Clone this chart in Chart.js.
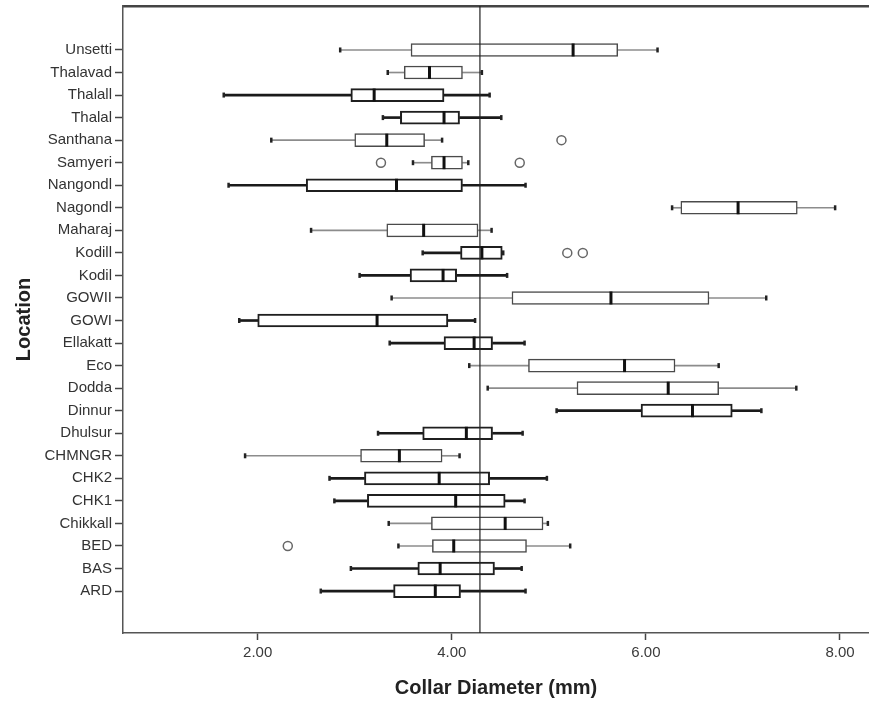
<!DOCTYPE html>
<html>
<head>
<meta charset="utf-8">
<script src="https://cdn.jsdelivr.net/npm/chart.js@4.4.1/dist/chart.umd.min.js"></script>
<style>
  html, body { margin: 0; padding: 0; background: #ffffff; }
  #wrap { width: 869px; height: 702px; position: relative; }
</style>
</head>
<body>
<div id="wrap"><canvas id="c" width="869" height="702"></canvas></div>
<script>
// ---- data ----
const categories = ["Unsetti","Thalavad","Thalall","Thalal","Santhana","Samyeri","Nangondl","Nagondl","Maharaj","Kodill","Kodil","GOWII","GOWI","Ellakatt","Eco","Dodda","Dinnur","Dhulsur","CHMNGR","CHK2","CHK1","Chikkall","BED","BAS","ARD"];
const whiskerLow  = [2.85,3.34,1.65,3.29,2.14,3.60,1.70,6.27,2.55,3.70,3.05,3.38,1.81,3.36,4.18,4.37,5.08,3.24,1.87,2.74,2.79,3.35,3.45,2.96,2.65];
const quartile1   = [3.58,3.51,2.96,3.47,3.00,3.79,2.50,6.36,3.33,4.09,3.57,4.62,2.00,3.92,4.79,5.29,5.95,3.70,3.06,3.10,3.13,3.79,3.80,3.65,3.40];
const medians     = [5.25,3.77,3.20,3.92,3.33,3.92,3.43,6.95,3.71,4.31,3.91,5.64,3.23,4.23,5.78,6.23,6.48,4.15,3.46,3.87,4.04,4.55,4.02,3.88,3.83];
const quartile3   = [5.71,4.11,3.92,4.08,3.72,4.11,4.11,7.56,4.27,4.52,4.05,6.65,3.96,4.42,6.30,6.75,6.89,4.42,3.90,4.39,4.55,4.94,4.77,4.44,4.09];
const whiskerHigh = [6.12,4.31,4.39,4.51,3.90,4.17,4.76,7.95,4.41,4.53,4.57,7.24,4.24,4.75,6.75,7.55,7.19,4.73,4.08,4.98,4.75,4.99,5.22,4.72,4.76];
const outlierLocations = ["Santhana","Samyeri","Samyeri","Kodill","Kodill","BED"];
const outlierValues    = [5.13,3.27,4.70,5.19,5.35,2.31];
const referenceValue = 4.29;
const xTickValues = [2, 4, 6, 8];

// ---- style (not data) ----
const heavyStroke = [0,0,1,1,0,0,1,0,0,1,1,0,1,1,0,0,1,1,0,1,1,0,0,1,1];
const FONT = "'Liberation Sans', Arial, sans-serif";
const X_MIN = 0.612, X_MAX = 8.299;
const Y_MIN = -1.95, Y_MAX = 25.86;

const idx = categories.map((_, i) => i);
const heavyIdx = idx.filter(i => heavyStroke[i]);
const lightIdx = idx.filter(i => !heavyStroke[i]);

function whiskerSet(list, thick, color) {
  const pts = [];
  list.forEach(i => {
    pts.push({ y: i, x: [whiskerLow[i], quartile1[i]] });
    pts.push({ y: i, x: [quartile3[i], whiskerHigh[i]] });
  });
  return {
    type: 'bar', order: 6, grouped: false, indexAxis: 'y',
    data: pts, barThickness: thick, backgroundColor: color, borderWidth: 0
  };
}

const datasets = [
  whiskerSet(lightIdx, 1, '#8c8c8c'),
  whiskerSet(heavyIdx, 2, '#1a1a1a'),
  {
    type: 'bar', label: 'box', order: 5, grouped: false, indexAxis: 'y',
    data: idx.map(i => ({ y: i, x: [quartile1[i], quartile3[i]] })),
    barThickness: 13,
    backgroundColor: '#ffffff',
    borderColor: ctx => heavyStroke[ctx.dataIndex] ? '#1f1f1f' : '#4a4a4a',
    borderWidth: ctx => heavyStroke[ctx.dataIndex] ? 2 : 1.5,
    borderSkipped: false
  },
  {
    type: 'scatter', label: 'median', order: 3,
    data: idx.map(i => ({ x: medians[i], y: i })),
    pointStyle: 'line', rotation: 90, radius: 6.5,
    borderColor: '#111111', borderWidth: 3
  },
  {
    type: 'scatter', label: 'caps', order: 3,
    data: idx.map(i => ({ x: whiskerLow[i], y: i })).concat(idx.map(i => ({ x: whiskerHigh[i], y: i }))),
    pointStyle: 'line', rotation: 90, radius: 2.5,
    borderColor: '#222222', borderWidth: 2.5
  },
  {
    type: 'scatter', label: 'outliers', order: 2,
    data: outlierValues.map((v, k) => ({ x: v, y: categories.indexOf(outlierLocations[k]) })),
    pointStyle: 'circle', radius: 4.5,
    backgroundColor: '#ffffff', borderColor: '#666666', borderWidth: 1.5
  },
  {
    type: 'scatter', label: 'reference', order: 1,
    data: [{ x: referenceValue, y: Y_MIN }, { x: referenceValue, y: Y_MAX }],
    showLine: true, pointRadius: 0,
    borderColor: '#222222', borderWidth: 1.2
  }
];

new Chart(document.getElementById('c'), {
  type: 'bar',
  data: { datasets },
  options: {
    responsive: false,
    animation: false,
    indexAxis: 'y',
    layout: { padding: 0, autoPadding: false },
    plugins: { legend: { display: false }, tooltip: { enabled: false } },
    scales: {
      x: {
        type: 'linear', position: 'bottom', min: X_MIN, max: X_MAX,
        bounds: 'data', offset: false, beginAtZero: false,
        afterBuildTicks: s => { s.ticks = xTickValues.map(v => ({ value: v })); },
        afterFit: s => { s.height = 69; s.paddingLeft = 0; s.paddingRight = 0; },
        ticks: { callback: v => Number(v).toFixed(2), color: '#3a3a3a', font: { family: FONT, size: 15 }, padding: 4, maxRotation: 0 },
        grid: { display: true, offset: false, drawOnChartArea: false, drawTicks: true, tickLength: 7, tickColor: '#444', tickWidth: 1.5 },
        border: { display: true, color: '#555', width: 1.5 },
        title: { display: true, text: 'Collar Diameter (mm)', color: '#222', font: { family: FONT, size: 20, weight: 'bold' }, padding: { top: 0, bottom: 2 } }
      },
      x2: {
        type: 'linear', position: 'top', min: X_MIN, max: X_MAX, bounds: 'data',
        afterFit: s => { s.height = 6; s.paddingLeft = 0; s.paddingRight = 0; },
        ticks: { display: false },
        grid: { display: false },
        border: { display: true, color: '#444', width: 2.5 }
      },
      y: {
        type: 'linear', position: 'left', reverse: true, min: Y_MIN, max: Y_MAX,
        bounds: 'data', offset: false, beginAtZero: false,
        afterBuildTicks: s => { s.ticks = categories.map((_, i) => ({ value: i })); },
        afterFit: s => { s.width = 123; s.paddingTop = 0; s.paddingBottom = 0; },
        ticks: { callback: v => categories[v], color: '#333', font: { family: FONT, size: 15 }, padding: 3, autoSkip: false },
        grid: { display: true, offset: false, drawOnChartArea: false, drawTicks: true, tickLength: 8, tickColor: '#444', tickWidth: 1.5 },
        border: { display: true, color: '#555', width: 1.5 },
        title: { display: true, text: 'Location', color: '#222', font: { family: FONT, size: 20, weight: 'bold' }, padding: { top: 12, bottom: 0 } }
      }
    }
  }
});
</script>
</body>
</html>
